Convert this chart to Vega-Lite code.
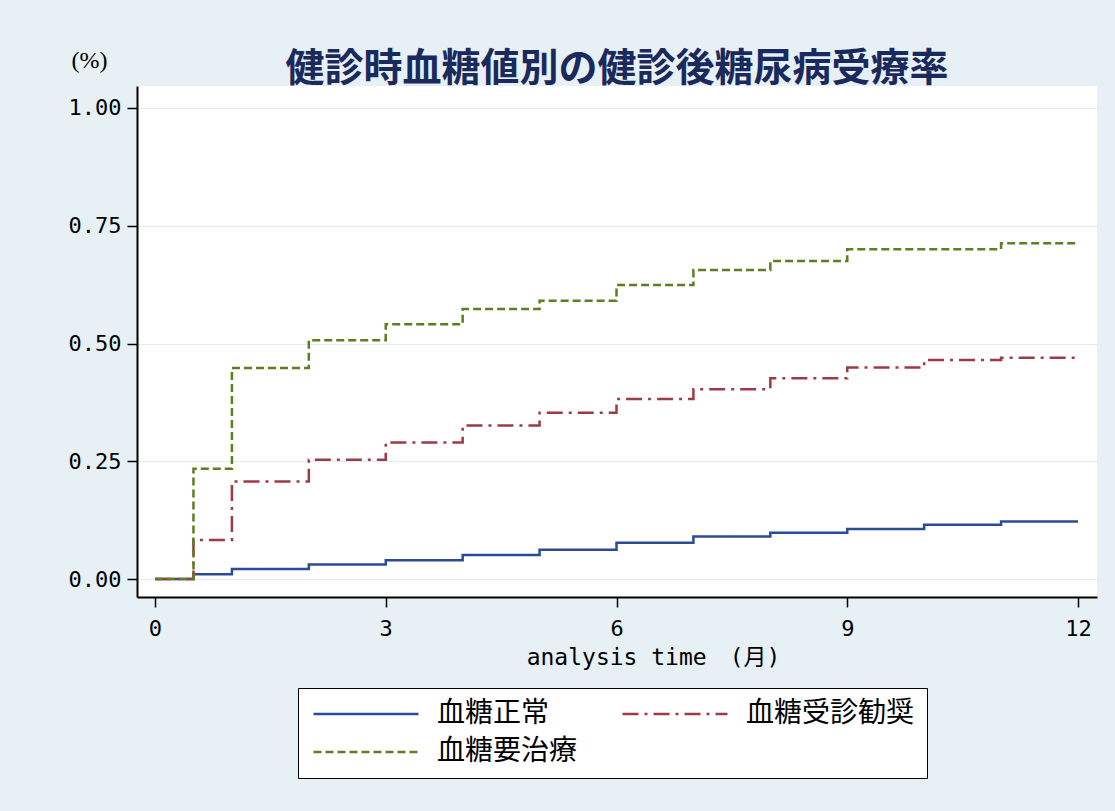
{
  "$schema": "https://vega.github.io/schema/vega-lite/v6.json",
  "autosize": {"type": "none"},
  "padding": {"left": 137, "top": 86, "right": 18, "bottom": 214},
  "width": 960,
  "height": 511,
  "background": "#e7f0f4",
  "view": {"fill": "white", "stroke": null},
  "title": {
    "text": "健診時血糖値別の健診後糖尿病受療率",
    "font": "Noto Sans CJK JP",
    "fontSize": 39,
    "fontWeight": "bold",
    "color": "#1b2a5c",
    "anchor": "middle",
    "frame": "group",
    "baseline": "alphabetic",
    "offset": -42,
    "dy": 30
  },
  "data": {
    "values": [
      {"t": 0, "v": 0, "g": "血糖正常"},
      {"t": 0.5, "v": 0.010, "g": "血糖正常"},
      {"t": 1, "v": 0.021, "g": "血糖正常"},
      {"t": 2, "v": 0.031, "g": "血糖正常"},
      {"t": 3, "v": 0.040, "g": "血糖正常"},
      {"t": 4, "v": 0.051, "g": "血糖正常"},
      {"t": 5, "v": 0.062, "g": "血糖正常"},
      {"t": 6, "v": 0.077, "g": "血糖正常"},
      {"t": 7, "v": 0.090, "g": "血糖正常"},
      {"t": 8, "v": 0.098, "g": "血糖正常"},
      {"t": 9, "v": 0.106, "g": "血糖正常"},
      {"t": 10, "v": 0.115, "g": "血糖正常"},
      {"t": 11, "v": 0.122, "g": "血糖正常"},
      {"t": 12, "v": 0.122, "g": "血糖正常"},
      {"t": 0, "v": 0, "g": "血糖受診勧奨"},
      {"t": 0.5, "v": 0.083, "g": "血糖受診勧奨"},
      {"t": 1, "v": 0.207, "g": "血糖受診勧奨"},
      {"t": 2, "v": 0.253, "g": "血糖受診勧奨"},
      {"t": 3, "v": 0.290, "g": "血糖受診勧奨"},
      {"t": 4, "v": 0.326, "g": "血糖受診勧奨"},
      {"t": 5, "v": 0.353, "g": "血糖受診勧奨"},
      {"t": 6, "v": 0.382, "g": "血糖受診勧奨"},
      {"t": 7, "v": 0.403, "g": "血糖受診勧奨"},
      {"t": 8, "v": 0.426, "g": "血糖受診勧奨"},
      {"t": 9, "v": 0.449, "g": "血糖受診勧奨"},
      {"t": 10, "v": 0.465, "g": "血糖受診勧奨"},
      {"t": 11, "v": 0.470, "g": "血糖受診勧奨"},
      {"t": 12, "v": 0.470, "g": "血糖受診勧奨"},
      {"t": 0, "v": 0, "g": "血糖要治療"},
      {"t": 0.5, "v": 0.234, "g": "血糖要治療"},
      {"t": 1, "v": 0.448, "g": "血糖要治療"},
      {"t": 2, "v": 0.507, "g": "血糖要治療"},
      {"t": 3, "v": 0.541, "g": "血糖要治療"},
      {"t": 4, "v": 0.573, "g": "血糖要治療"},
      {"t": 5, "v": 0.591, "g": "血糖要治療"},
      {"t": 6, "v": 0.624, "g": "血糖要治療"},
      {"t": 7, "v": 0.656, "g": "血糖要治療"},
      {"t": 8, "v": 0.675, "g": "血糖要治療"},
      {"t": 9, "v": 0.700, "g": "血糖要治療"},
      {"t": 10, "v": 0.700, "g": "血糖要治療"},
      {"t": 11, "v": 0.713, "g": "血糖要治療"},
      {"t": 12, "v": 0.713, "g": "血糖要治療"}
    ]
  },
  "mark": {"type": "line", "interpolate": "step-after", "strokeWidth": 2.5, "strokeCap": "butt"},
  "encoding": {
    "x": {
      "field": "t",
      "type": "quantitative",
      "scale": {"domain": [-0.234, 12.247], "nice": false, "zero": false},
      "axis": {
        "values": [0, 3, 6, 9, 12],
        "grid": false,
        "format": "d",
        "title": "analysis time　(月)",
        "titleFont": "DejaVu Sans Mono, Noto Sans CJK JP",
        "titleFontSize": 23,
        "titleFontWeight": "normal",
        "titleColor": "black",
        "titleX": 516,
        "titleY": 60,
        "titleAlign": "center",
        "titleBaseline": "middle",
        "labelFont": "DejaVu Sans Mono",
        "labelFontSize": 22,
        "labelColor": "black",
        "labelPadding": 11,
        "tickSize": 10,
        "tickWidth": 1.5,
        "tickColor": "black",
        "domainColor": "black",
        "domainWidth": 2
      }
    },
    "y": {
      "field": "v",
      "type": "quantitative",
      "scale": {"domain": [-0.0382, 1.0467], "nice": false, "zero": false},
      "axis": {
        "values": [0, 0.25, 0.5, 0.75, 1],
        "format": ".2f",
        "grid": true,
        "gridColor": "#deeff0",
        "gridWidth": 1,
        "title": "(%)",
        "titleAngle": 0,
        "titleX": -48,
        "titleY": -26,
        "titleAlign": "center",
        "titleBaseline": "middle",
        "titleFont": "Liberation Serif",
        "titleFontSize": 24,
        "titleFontWeight": "normal",
        "titleColor": "black",
        "labelFont": "DejaVu Sans Mono",
        "labelFontSize": 22,
        "labelColor": "black",
        "labelPadding": 6,
        "tickSize": 10,
        "tickWidth": 1.5,
        "tickColor": "black",
        "domainColor": "black",
        "domainWidth": 2
      }
    },
    "color": {
      "field": "g",
      "type": "nominal",
      "sort": ["血糖正常", "血糖受診勧奨", "血糖要治療"],
      "scale": {
        "domain": ["血糖正常", "血糖受診勧奨", "血糖要治療"],
        "range": ["#2b4b96", "#9e3a44", "#5c7f1f"]
      },
      "legend": {
        "orient": "none",
        "direction": "horizontal",
        "legendX": 161,
        "legendY": 602,
        "title": null,
        "columns": 2,
        "columnPadding": 39,
        "rowPadding": 10,
        "padding": 12,
        "strokeColor": "black",
        "fillColor": "white",
        "symbolType": "M-1,0H9",
        "symbolSize": 441,
        "symbolStrokeWidth": 2.5,
        "symbolFillColor": "transparent",
        "labelOffset": 99,
        "labelFont": "Noto Sans CJK JP",
        "labelFontSize": 28,
        "labelColor": "black",
        "labelLimit": 400
      }
    },
    "strokeDash": {
      "field": "g",
      "type": "nominal",
      "sort": ["血糖正常", "血糖受診勧奨", "血糖要治療"],
      "scale": {
        "domain": ["血糖正常", "血糖受診勧奨", "血糖要治療"],
        "range": [[1, 0], [16, 6, 3, 6], [8, 4]]
      }
    }
  }
}
